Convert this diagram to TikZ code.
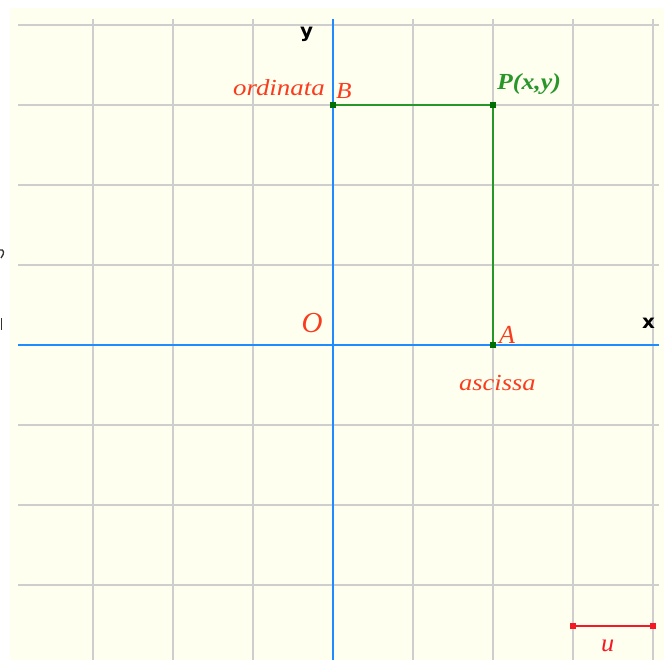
\documentclass[tikz,border=0pt]{standalone}
\usepackage{fontspec}
\setmainfont{Liberation Serif}
\newfontfamily\axfont{DejaVu Sans}
\definecolor{cream}{RGB}{255,255,240}
\definecolor{gridgray}{RGB}{206,206,206}
\definecolor{axblue}{RGB}{30,140,255}
\definecolor{pgreen}{RGB}{40,150,40}
\definecolor{dgreen}{RGB}{0,110,0}
\definecolor{lblred}{RGB}{250,60,30}
\definecolor{ured}{RGB}{245,25,35}
\begin{document}
\begin{tikzpicture}[x=1pt,y=-1pt,
  gridline/.style={draw=gridgray,line width=2pt},
  axisline/.style={draw=axblue,line width=2pt},
  coordline/.style={draw=pgreen,line width=2pt},
  gdot/.style={fill=dgreen,inner sep=0pt,minimum size=6pt,rectangle},
  rdot/.style={fill=ured,inner sep=0pt,minimum size=6pt,rectangle},
  redlbl/.style={text=lblred,inner sep=0pt,font=\fontsize{23}{23}\selectfont\itshape},
  axlbl/.style={text=black,inner sep=0pt,font=\axfont\bfseries\fontsize{19}{19}\selectfont}]
\useasboundingbox (0,0) rectangle (664,660);
\fill[white] (0,0) rectangle (664,660);
\fill[cream] (10,8) rectangle (664,660);
% grid
\foreach \yy in {25,105,185,265,425,505,585}
  \draw[gridline] (18,\yy) -- (659,\yy);
\foreach \xx in {93,173,253,413,493,573,653}
  \draw[gridline] (\xx,19) -- (\xx,660);
% axes
\draw[axisline] (18,345) -- (659,345);
\draw[axisline] (333,19) -- (333,660);
% points
\node[gdot] (B) at (333,105) {};
\node[gdot] (P) at (493,105) {};
\node[gdot] (A) at (493,345) {};
\draw[coordline] (B.center) -- (P.center) -- (A.center);
\node[gdot] at (B) {};
\node[gdot] at (P) {};
\node[gdot] at (A) {};
% unit segment
\node[rdot] (u1) at (573,626) {};
\node[rdot] (u2) at (653,626) {};
\draw[draw=ured,line width=2pt] (u1.center) -- (u2.center);
% labels
\node[axlbl,anchor=base west] (ylbl) at (300,38) {\scalebox{1.05}[1]{y}};
\node[axlbl,anchor=base west] (xlbl) at (642,328) {\scalebox{1.05}[1]{x}};
\node[redlbl,anchor=base east] (ord) at (325,96) {\scalebox{1.17}[1]{ordinata}};
\node[redlbl,anchor=base west] (Blbl) at (336,99) {\scalebox{1.1}[1]{B}};
\node[redlbl,anchor=base west] (Albl) at (499,343) {\fontsize{26}{26}\selectfont A};
\node[redlbl,anchor=base] (Olbl) at (312,333) {\fontsize{29}{29}\selectfont O};
\node[redlbl,anchor=base west] (asc) at (459,390) {\scalebox{1.15}[1]{ascissa}};
\node[redlbl,anchor=base west,text=ured] (ulbl) at (601,651) {\fontsize{25}{25}\selectfont\scalebox{1.05}[1]{u}};
\node[inner sep=0pt,anchor=base west,text=pgreen,font=\fontsize{23}{23}\selectfont\bfseries\itshape] (Plbl) at (497,90) {\scalebox{1.12}[1]{P(x,y)}};
% stray marks at left edge
\draw[black!80,line width=1.3pt] (0,250) .. controls (4,249) and (5,253) .. (1,258);
\draw[black!80,line width=1.2pt] (1.5,318) -- (1.5,330);
\end{tikzpicture}
\end{document}
